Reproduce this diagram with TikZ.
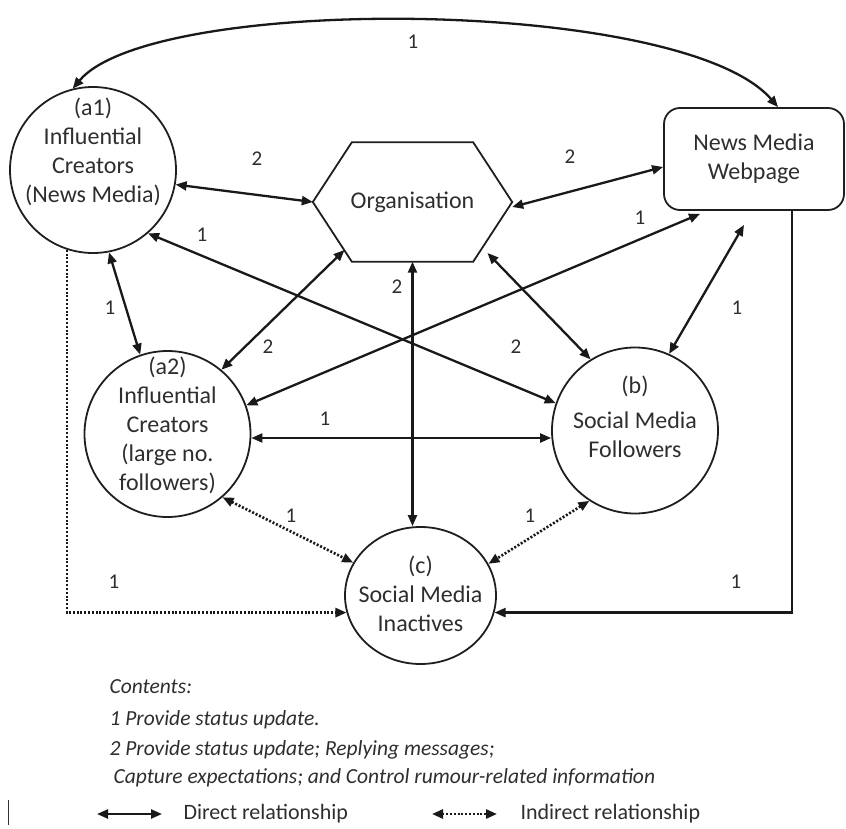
\documentclass[tikz,border=0pt]{standalone}
\usepackage{fontspec}
\setmainfont{Carlito}
\usetikzlibrary{positioning,calc,arrows.meta,shapes.geometric}

\begin{document}
\begin{tikzpicture}[x=1pt,y=-1pt,
    >={Triangle[length=11pt,width=9pt]},
    every node/.style={text=black!82},
    circ/.style={circle,draw=black!88,line width=1.8pt,minimum size=166pt,inner sep=0pt},
    txt/.style={align=center,font=\fontsize{24}{29}\selectfont},
    num/.style={font=\fontsize{21}{24}\selectfont},
    leg/.style={anchor=west,font=\fontsize{21.5}{24}\selectfont\itshape},
    dir/.style={draw=black!90,line width=2.3pt,<->},
    ind/.style={draw=black!90,line width=2.6pt,dash pattern=on 2pt off 1.8pt,<->}]
\useasboundingbox (0,0) rectangle (846,829);

% actors
\node[circ] (a1) at (93,170) {};
\node[txt] (a1txt) at ([yshift=18pt]a1.center) {(a1)\\Influential\\Creators\\(News Media)};
\node[circ] (a2) at (167.5,434) {};
\node[txt] (a2txt) at ([yshift=9pt]a2.center) {(a2)\\Influential\\Creators\\(large no.\\followers)};
\node[circ] (b) at (635,430.5) {};
\node[txt] (btxt) at ([yshift=14pt]b.center) {(b)\\[6pt]Social Media\\Followers};
\node[ellipse,draw=black!88,line width=1.8pt,minimum width=151pt,minimum height=137pt,inner sep=0pt] (c) at (420.5,595.5) {};
\node[txt] (ctxt) at ([yshift=2pt]c.center) {(c)\\Social Media\\Inactives};

% organisation and webpage
\node[txt,minimum width=199pt,minimum height=119pt,inner sep=0pt] (org) at (412.5,202) {Organisation};
\draw[draw=black!88,line width=1.8pt] (org.west) -- ([xshift=39pt]org.north west) -- ([xshift=-39pt]org.north east)
    -- (org.east) -- ([xshift=-39pt]org.south east) -- ([xshift=39pt]org.south west) -- cycle;
\node[txt,draw=black!88,line width=1.8pt,rounded corners=16pt,minimum width=180pt,minimum height=102pt] (web) at (754,159) {News Media\\Webpage};

\coordinate (orgsw) at ([xshift=-68pt,yshift=-48pt]org.center);
\coordinate (orgse) at ([xshift=75pt,yshift=-51pt]org.center);
\coordinate (webbl) at ([xshift=-54pt,yshift=-3pt]web.south);
\coordinate (webb) at ([xshift=-10pt,yshift=-14pt]web.south);

% relationships
\draw[dir] (a1.104) .. controls +(80,-95) and +(-95,-110) .. ([xshift=24pt]web.north);
\draw[dir] (a1.-10) -- (org.west);
\draw[dir] ([yshift=-5pt]org.east) -- ([yshift=-8pt]web.west);
\draw[dir] (a1.-49) -- (b.161);
\draw[dir] (a1.-79) -- (a2.109);
\draw[dir] (a2.50) -- (orgsw);
\draw[dir] (a2.20) -- (webbl);
\draw[dir] ([yshift=-4pt]a2.east) -- ([yshift=-4pt]a2.east -| b.west);
\draw[dir] (org.south) -- (org.south |- c.north);
\draw[dir] (orgse) -- (b.122);
\draw[dir] (webb) -- (b.66);
\draw[ind] (a2.-49) -- (c.154);
\draw[ind] (b.-123) -- (c.25);
\draw[ind,-{Triangle[length=11pt,width=9pt]}] (a1.-108) |- (c.193);
\draw[dir,->] ([xshift=38pt]web.south) |- (c.-13);

% labels
\node[num] (l1) at (413,42) {1};
\node[num] (l2) at (257,159) {2};
\node[num] (l3) at (570,157) {2};
\node[num] (l4) at (202,235) {1};
\node[num] (l5) at (110,308) {1};
\node[num] (l6) at (640,218) {1};
\node[num] (l7) at (268,347) {2};
\node[num] (l8) at (397,287) {2};
\node[num] (l9) at (516,347) {2};
\node[num] (l10) at (737,308) {1};
\node[num] (l11) at (325,419) {1};
\node[num] (l12) at (291,516) {1};
\node[num] (l13) at (530,516) {1};
\node[num] (l14) at (114,582) {1};
\node[num] (l15) at (736,582) {1};

% contents
\node[leg] (cont) at (106,687) {Contents:};
\node[leg] (cont1) at (106,720) {1 Provide status update.};
\node[leg] (cont2) at (106,750) {2 Provide status update; Replying messages;};
\node[leg] (cont3) at (110,778) {Capture expectations; and Control rumour-related information};

% key
\draw[line width=1pt,black!80] (8,800) -- (8,825);
\coordinate (d1) at (97,814);
\coordinate (d2) at (162,814);
\draw[dir] (d1) -- (d2);
\node[anchor=west,font=\fontsize{22}{24}\selectfont] (dtxt) at (180,814) {Direct relationship};
\coordinate (i1) at (432,814);
\coordinate (i2) at (497,814);
\draw[ind] (i1) -- (i2);
\node[anchor=west,font=\fontsize{22}{24}\selectfont] (itxt) at (517,814) {Indirect relationship};
\end{tikzpicture}
\end{document}
